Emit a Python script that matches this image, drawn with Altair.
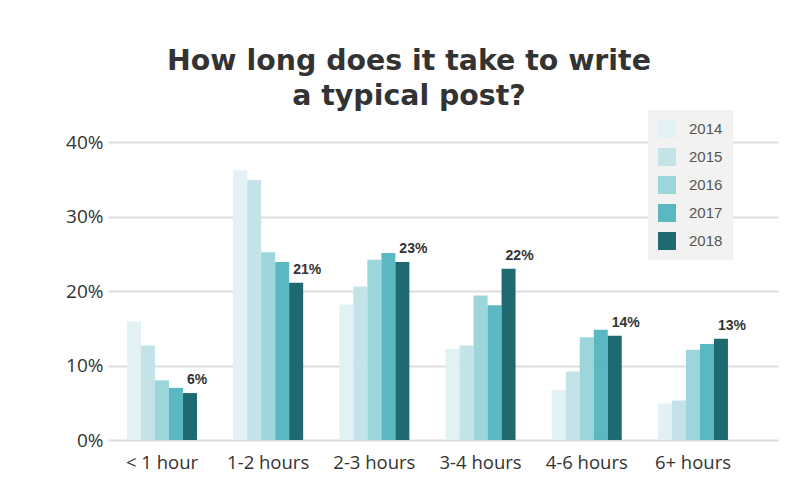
import altair as alt
import pandas as pd

categories = ["< 1 hour", "1-2 hours", "2-3 hours", "3-4 hours", "4-6 hours", "6+ hours"]
years = ["2014", "2015", "2016", "2017", "2018"]
v2014 = [15.9, 36.2, 18.2, 12.2, 6.7, 4.9]
v2015 = [12.7, 34.9, 20.6, 12.7, 9.2, 5.3]
v2016 = [8.0, 25.2, 24.2, 19.4, 13.8, 12.1]
v2017 = [7.0, 23.9, 25.1, 18.1, 14.8, 12.9]
v2018 = [6.3, 21.1, 23.9, 23.0, 14.0, 13.6]
labels_2018 = ["6%", "21%", "23%", "22%", "14%", "13%"]
colors = ["#e1f1f4", "#c3e3e8", "#9cd5da", "#5bb8c2", "#1f6a70"]

series = [v2014, v2015, v2016, v2017, v2018]
rows = []
for y, vals in zip(years, series):
    for i, (c, v) in enumerate(zip(categories, vals)):
        rows.append({"cat": c, "year": y, "value": v,
                     "label": labels_2018[i] if y == "2018" else ""})
df = pd.DataFrame(rows)

xscale = alt.Scale(domain=categories, paddingInner=0.341, paddingOuter=0.325, align=0.275)
xoff = alt.Scale(domain=years, paddingInner=0, paddingOuter=0)

base = alt.Chart(df)

bars = base.mark_bar().encode(
    x=alt.X("cat:N", scale=xscale, sort=categories,
            axis=alt.Axis(title=None, labelAngle=0, domain=False, ticks=False,
                          labelFont="Open Sans", labelFontSize=18.5, labelColor="#333333",
                          labelPadding=13, grid=False)),
    xOffset=alt.XOffset("year:N", scale=xoff, sort=years),
    y=alt.Y("value:Q", scale=alt.Scale(domain=[0, 40], nice=False),
            axis=alt.Axis(title=None, values=[0, 10, 20, 30, 40], labelExpr="datum.value + '%'",
                          domain=False, ticks=False, labelFont="Open Sans", labelFontSize=19,
                          labelColor="#333333", labelPadding=5, gridColor="#dddddd",
                          gridWidth=2)),
    color=alt.Color("year:N", scale=alt.Scale(domain=years, range=colors),
                    legend=alt.Legend(title=None, orient="none", legendX=540, legendY=-32,
                                      fillColor="#f2f2f2", padding=10, symbolType="square",
                                      symbolSize=324, symbolStrokeWidth=0, symbolOpacity=1,
                                      labelFont="Liberation Sans", labelFontSize=15,
                                      labelColor="#555555", labelOffset=13, rowPadding=10)),
)

texts = base.transform_filter(alt.datum.year == "2018").mark_text(
    align="left", baseline="bottom", dx=-3, dy=-6, font="Liberation Sans",
    fontWeight="bold", fontSize=14, color="#333333"
).encode(
    x=alt.X("cat:N", scale=xscale, sort=categories),
    xOffset=alt.XOffset("year:N", scale=xoff, sort=years),
    y=alt.Y("value:Q"),
    text="label:N",
)

chart = alt.layer(bars, texts).properties(
    width=670, height=298,
    autosize=alt.AutoSizeParams(type="none"),
    padding={"left": 100, "top": 134, "right": 10, "bottom": 33},
    title=alt.Title(["How long does it take to write", "a typical post?"],
                    font="DejaVu Sans", fontWeight="bold", fontSize=28.4, color="#333333",
                    lineHeight=35, anchor="middle", dx=-34, offset=-1),
).configure_view(stroke=None)

chart.save("out.html", embed_options={"renderer": "svg", "actions": False})
